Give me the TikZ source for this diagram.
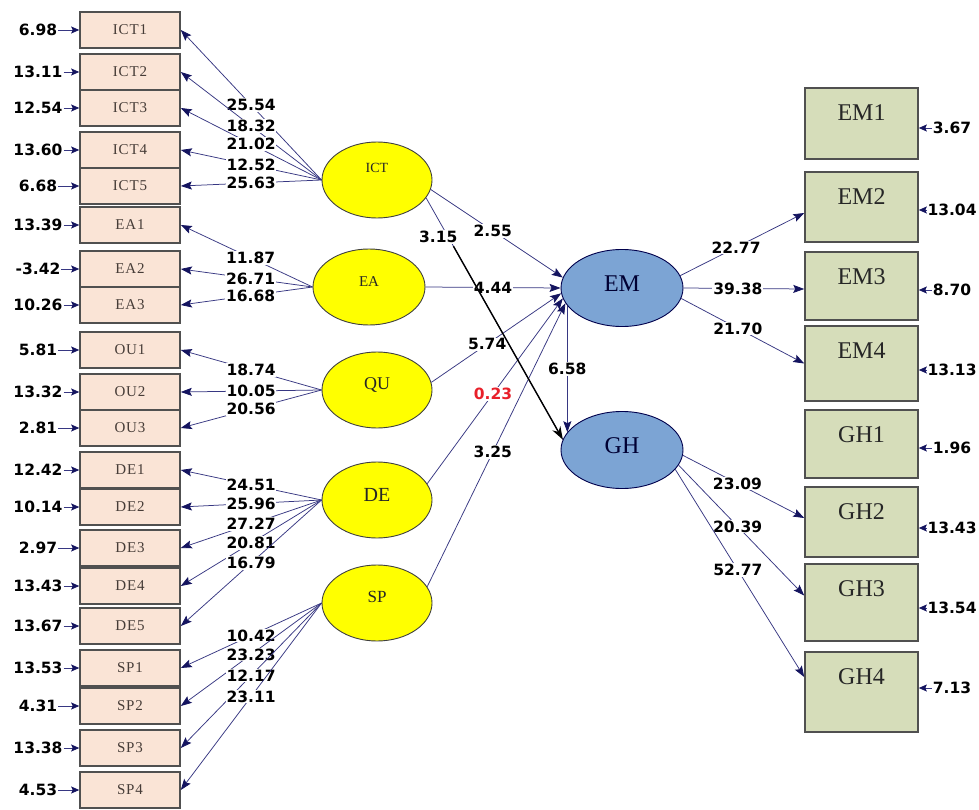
\documentclass[tikz,border=0pt]{standalone}
\usepackage{fontspec}
\setmainfont{Liberation Serif}
\newfontfamily\numfont{DejaVu Sans}
\newfontfamily\boxfont{Liberation Serif}[LetterSpace=6]
\usetikzlibrary{shapes.geometric,arrows.meta,calc}
\definecolor{peach}{RGB}{250,228,214}
\definecolor{olivebox}{RGB}{214,221,186}
\definecolor{lvblue}{RGB}{124,164,212}
\definecolor{navy}{RGB}{55,55,130}
\definecolor{headnavy}{RGB}{20,20,95}
\definecolor{boxedge}{RGB}{80,80,80}
\definecolor{boxtext}{RGB}{70,60,55}
\definecolor{redlab}{RGB}{232,32,42}
\definecolor{latyellow}{RGB}{255,255,0}
\begin{document}
\begin{tikzpicture}[x=1pt,y=-1pt,
  lbox/.style={draw=boxedge, line width=1.6pt, fill=peach, minimum width=100pt, minimum height=36pt, inner sep=0pt, font=\boxfont\fontsize{15}{15}\selectfont, text=boxtext},
  rbox/.style={draw=boxedge, line width=1.6pt, fill=olivebox, minimum width=113pt, inner sep=0pt},
  rlab/.style={anchor=center, yshift=-25.5pt, font=\fontsize{24}{24}\selectfont, text=black!85, inner sep=0pt},
  lat/.style={ellipse, draw=black!75, line width=0.9pt, fill=latyellow, minimum width=110pt, minimum height=76pt, inner sep=0pt, text=black!85},
  endo/.style={ellipse, draw=black!70!blue, line width=0.9pt, fill=lvblue, minimum width=122pt, minimum height=77pt, inner sep=0pt, font=\fontsize{24}{24}\selectfont, text=black!80!blue},
  num/.style={font=\numfont\bfseries\fontsize{15.5}{16}\selectfont, inner sep=0.8pt, text=black},
  lab/.style={num, fill=white},
  plainln/.style={draw=navy, line width=0.75pt},
  load/.style={plainln, -{Stealth[length=11pt,width=8pt,inset=2pt,color=headnavy]}},
  err/.style={draw=navy, line width=0.75pt, -{Stealth[length=8pt,width=7pt,inset=1.5pt,color=headnavy]}},
]
\useasboundingbox (0,0) rectangle (979,810);
\fill[white] (0,0) rectangle (979,810);

% left indicator boxes and error terms
\foreach \n/\y/\e in {ICT1/30/6.98, ICT2/72/13.11, ICT3/108/12.54, ICT4/150/13.60, ICT5/186/6.68,
                      EA1/225/13.39, EA2/269/-3.42, EA3/305/10.26,
                      OU1/350/5.81, OU2/392/13.32, OU3/428/2.81,
                      DE1/470/12.42, DE2/507/10.14, DE3/548/2.97, DE4/586/13.43, DE5/626/13.67,
                      SP1/668/13.53, SP2/706/4.31, SP3/748/13.38, SP4/790/4.53}{
  \node[lbox] (\n) at (130,\y) {\n};
  \node[num] (e\n) at (38,\y) {\e};
  \draw[err] (e\n.east) -- (\n.west |- e\n.east);
}

% right indicator boxes and error terms
\foreach \n/\y/\h/\ey/\e in {EM1/123.5/71/128/3.67, EM2/207/70/210/13.04, EM3/286/68/290/8.70, EM4/363.5/75/370/13.13,
                             GH1/444/68/448/1.96, GH2/522/70/528/13.43, GH3/602.5/77/608/13.54, GH4/692/80/688/7.13}{
  \node[rbox, minimum height=\h pt, label={[rlab]north:\n}] (\n) at (861.5,\y) {};
  \node[num] (e\n) at (952,\ey) {\e};
  \draw[err] (e\n.west) -- (\n.east |- e\n.west);
}

% latent variables
\node[lat, font=\fontsize{14}{14}\selectfont] (ICT) at (377,180) {\raisebox{7pt}[0pt][0pt]{ICT}};
\node[lat, minimum width=112pt, font=\fontsize{15}{15}\selectfont] (EA) at (369,287) {\raisebox{1pt}[0pt][0pt]{EA}};
\node[lat, font=\fontsize{18}{18}\selectfont] (QU) at (377,390) {\raisebox{1pt}[0pt][0pt]{QU}};
\node[lat, font=\fontsize{20}{20}\selectfont] (DE) at (377,500) {\raisebox{-1pt}[0pt][0pt]{DE}};
\node[lat, font=\fontsize{17}{17}\selectfont] (SP) at (377,603) {\raisebox{0.5pt}[0pt][0pt]{SP}};
\node[endo] (EM) at (622,288) {\raisebox{-3pt}[0pt][0pt]{EM}};
\node[endo] (GH) at (622,450) {\raisebox{-3pt}[0pt][0pt]{GH}};

% measurement loadings (left)
\foreach \b/\v in {ICT1/25.54, ICT2/18.32, ICT3/21.02, ICT4/12.52, ICT5/25.63}
  \draw[load] (ICT.west) -- node[lab,pos=0.5]{\v} (\b.east);
\foreach \b/\v in {EA1/11.87, EA2/26.71, EA3/16.68}
  \draw[load] (EA.west) -- node[lab,pos=0.47]{\v} (\b.east);
\foreach \b/\v in {OU1/18.74, OU2/10.05, OU3/20.56}
  \draw[load] (QU.west) -- node[lab,pos=0.5]{\v} (\b.east);
\foreach \b/\v in {DE1/24.51, DE2/25.96, DE3/27.27, DE4/20.81, DE5/16.79}
  \draw[load] (DE.west) -- node[lab,pos=0.5]{\v} (\b.east);
\foreach \b/\v in {SP1/10.42, SP2/23.23, SP3/12.17, SP4/23.11}
  \draw[load] (SP.west) -- node[lab,pos=0.5]{\v} (\b.east);

% measurement loadings (right)
\draw[load] (EM.12) -- node[lab,pos=0.45]{22.77} ([yshift=-6pt]EM2.west);
\draw[load] (EM.east) -- node[lab,pos=0.45]{39.38} ([yshift=-3pt]EM3.west);
\draw[load] (EM.-10) -- node[lab,pos=0.46]{21.70} (EM4.west);
\draw[load] (GH.-5) -- node[lab,pos=0.45]{23.09} ([yshift=4pt]GH2.west);
\draw[load] (GH.-15) -- node[lab,pos=0.47]{20.39} ([yshift=7pt]GH3.west);
\draw[load] (GH.-20) -- node[lab,pos=0.485]{52.77} ([yshift=15pt]GH4.west);

% structural paths
\draw[load] (ICT.-10) -- node[lab,pos=0.47]{2.55} (EM.170);
\draw[load] (EA.east) -- node[lab,pos=0.5]{4.44} (EM.west);
\draw[load] (QU.8) -- node[lab,pos=0.43]{5.74} (EM.185);
\draw[load] (DE.18) -- node[lab,pos=0.485,text=redlab]{0.23} (EM.190);
\draw[load] (SP.18) -- node[lab,pos=0.475]{3.25} (EM.195);
\draw[load] (EM.198) -- node[lab,pos=0.5]{6.58} (GH.162);
\draw[plainln] (ICT.-20) -- node[lab,pos=0.162,xshift=-10pt]{3.15} coordinate[pos=0.2] (bk) (GH.170);
\draw[black, line width=1.4pt, -{Stealth[length=13pt,width=9pt]}] (bk) -- (GH.170);
\end{tikzpicture}
\end{document}
